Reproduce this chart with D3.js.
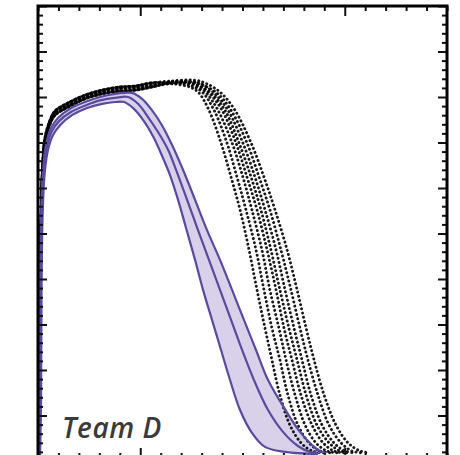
<!DOCTYPE html>
<html>
<head>
<meta charset="utf-8">
<script src="https://cdn.jsdelivr.net/npm/d3@7"></script>
<style>
  html, body { margin: 0; padding: 0; background: #fff; }
  svg { display: block; }
</style>
</head>
<body>
<svg id="chart" width="460" height="455"></svg>
<script>
// ---- data -------------------------------------------------------------
// Three slightly different steep rises shared by the black runs
const riseMid  = [[0.5,1.3],[0.7,13.4],[1.0,35.4],[1.5,53.0],[2.2,64.0],[3.4,70.5],[5.9,74.5],[8.3,76.5],[14.7,78.2],[23.0,80.0],[31.3,81.1],[40.1,81.8],[47.4,82.0],[55.7,82.6]];
const riseHigh = [[0.5,1.3],[0.7,13.4],[1.0,35.4],[1.5,53.0],[2.2,64.4],[3.4,71.0],[5.9,74.9],[8.3,76.9],[14.7,78.7],[23.0,80.4],[31.3,81.5],[40.1,82.2],[47.4,82.4],[55.7,83.1]];
const riseLow  = [[0.5,1.3],[0.7,13.4],[1.0,35.4],[1.5,53.0],[2.2,63.6],[3.4,70.1],[5.9,74.1],[8.3,76.0],[14.7,77.8],[23.0,79.6],[31.3,80.7],[40.1,81.3],[47.4,81.5],[55.7,82.2]];

// y levels at which each black run's descent is sampled
const dropLevels = [80.9,77.1,69.9,62.4,55.2,46.4,37.6,29.2,22.2,14.5,7.9,4.0,2.2,1.8];

// plateau points and descent x-values of the eight black runs
const runA = { top: [[64.5,82.9],[70.4,82.6],[75.3,82.0]], drop: [78.7,83.6,89.5,94.4,98.8,103.2,107.1,111.0,114.4,118.3,123.2,128.6,134.0,139.9] };
const runB = { top: [[64.5,83.1],[71.4,82.9],[76.3,82.2]], drop: [80.7,86.1,92.4,97.3,101.7,106.6,110.5,114.4,118.3,122.2,127.1,132.5,137.9,143.8] };
const runC = { top: [[64.5,83.1],[72.4,83.1],[77.3,82.4]], drop: [82.2,88.0,94.9,100.2,104.6,109.5,113.4,117.8,121.3,125.7,130.6,135.9,141.3,146.7] };
const runD = { top: [[64.5,83.3],[72.9,83.3],[78.2,82.6]], drop: [83.6,90.0,96.8,102.2,107.1,112.0,116.4,120.3,124.2,128.6,134.0,139.4,144.7,150.1] };
const runE = { top: [[64.5,82.9],[73.3,83.1],[78.7,82.4]], drop: [84.6,91.4,98.3,104.2,109.0,113.9,118.3,122.7,126.7,131.1,136.4,142.3,147.7,152.6] };
const runF = { top: [[64.5,83.3],[74.3,83.5],[79.7,82.9]], drop: [86.1,92.9,100.2,106.1,111.0,116.4,120.8,125.2,129.1,133.5,138.9,144.7,150.1,155.0] };
const runG = { top: [[64.5,83.1],[75.3,83.3],[80.7,82.6]], drop: [87.5,94.4,102.2,108.1,113.4,118.8,123.7,128.1,132.0,136.9,142.3,148.2,153.5,158.4] };
const runH = { top: [[64.5,83.5],[76.8,83.7],[82.6,82.9]], drop: [89.5,96.3,104.2,110.5,115.9,121.8,126.7,131.1,135.0,139.9,145.7,151.6,157.5,162.3] };

// Team D: upper, middle and lower curves of the shaded band
const teamUpper = [[0.5,1.3],[0.7,13.4],[1.0,35.4],[1.5,53.0],[2.4,63.5],[3.9,69.5],[6.4,73.2],[9.8,75.4],[15.6,77.4],[23.0,78.9],[30.3,80.0],[37.7,80.7],[42.5,80.9],[46.0,80.9],
  [50.9,79.6],[55.7,77.1],[60.6,73.8],[65.5,69.5],[70.9,64.0],[76.8,57.4],[82.6,50.8],[89.0,44.2],[94.9,37.6],[100.7,31.0],[106.6,24.4],[112.5,17.8],[121.3,11.0],[128.1,6.4],[134.0,3.5],[137.9,2.2],[140.8,1.8]];
const teamMiddle = [[0.5,1.3],[0.7,13.4],[1.0,35.4],[1.7,53.0],[2.7,63.3],[4.4,69.0],[6.8,72.5],[10.3,74.7],[16.1,76.7],[23.5,78.2],[30.8,79.3],[37.7,79.8],[44.0,80.0],
  [48.9,78.5],[53.8,75.6],[58.7,72.3],[63.6,68.4],[67.5,64.0],[72.9,57.4],[78.2,50.8],[83.6,44.2],[89.0,37.6],[94.4,31.0],[99.8,24.4],[105.6,17.8],[112.5,11.2],[119.8,6.4],[127.1,3.3],[133.0,2.0],[137.9,1.8]];
const teamLower = [[1.0,1.3],[1.5,13.4],[1.7,35.4],[2.2,53.0],[3.2,62.9],[4.9,68.4],[7.3,71.6],[10.8,73.8],[16.6,76.0],[24.0,77.6],[31.3,78.5],[37.7,78.9],[42.1,78.9],
  [46.9,77.4],[51.8,74.7],[56.7,71.0],[61.1,66.6],[64.5,62.9],[68.5,57.4],[72.4,51.2],[76.8,44.2],[80.7,37.6],[85.1,31.0],[89.5,24.4],[93.9,17.8],[98.8,11.2],[104.6,6.2],[111.0,3.1],[120.8,2.0],[136.9,1.5]];

// axis ticks
const xMajorTicks = [50, 150];
const xMinorTicks = [0,10,20,30,40,60,70,80,90,100,110,120,130,140,160,170,180,190,200];
const yMajorTicks = [10,20,30,40,50,60,70,80,90,100];
const yMinorTicks = d3.range(0, 101, 2).filter(v => v % 10 !== 0);

const label = "Team D";

// ---- layout -----------------------------------------------------------
const svg = d3.select("#chart");
const plotLeft = 38, plotRight = 447, plotTop = 6, plotBottom = 458;

const x = d3.scaleLinear().domain([0, 200]).range([plotLeft, plotRight]);
const y = d3.scaleLinear().domain([0, 100]).range([461, plotTop]);

svg.append("clipPath").attr("id", "plotArea")
  .append("rect").attr("x", plotLeft).attr("y", plotTop)
  .attr("width", plotRight - plotLeft).attr("height", plotBottom - plotTop);

const line = d3.line().x(d => x(d[0])).y(d => y(d[1])).curve(d3.curveCatmullRom.alpha(0.5));
const plot = svg.append("g").attr("clip-path", "url(#plotArea)");

// shaded band between the outer Team D curves
const band = teamUpper.concat(teamLower.slice().reverse());
plot.append("path")
  .attr("d", d3.line().x(d => x(d[0])).y(d => y(d[1])).curve(d3.curveCatmullRomClosed.alpha(0.5))(band))
  .attr("fill", "#d9d1ea")
  .attr("stroke", "none");

// black dotted runs
const runs = [
  { rise: riseLow,  run: runA }, { rise: riseHigh, run: runB }, { rise: riseMid,  run: runC },
  { rise: riseLow,  run: runD }, { rise: riseHigh, run: runE }, { rise: riseMid,  run: runF },
  { rise: riseLow,  run: runG }, { rise: riseHigh, run: runH }
];
runs.forEach((r, i) => {
  const pts = r.rise.concat(r.run.top, r.run.drop.map((vx, k) => [vx, dropLevels[k]]));
  plot.append("path")
    .attr("d", line(pts))
    .attr("fill", "none")
    .attr("stroke", "#000")
    .attr("stroke-width", 2.9)
    .attr("stroke-linecap", "round")
    .attr("stroke-dasharray", "0.1 4.2")
    .attr("stroke-dashoffset", i * 1.1)
    .attr("opacity", 0.9);
});

// Team D curves
[teamLower, teamMiddle, teamUpper].forEach(pts => {
  plot.append("path")
    .attr("d", line(pts))
    .attr("fill", "none")
    .attr("stroke", "#5a4a9e")
    .attr("stroke-width", 2.2);
});

// ---- axes (inward ticks on all four sides) -----------------------------
function addAxis(axisFn, scale, values, size, transform) {
  const g = svg.append("g").attr("transform", transform)
    .call(axisFn(scale).tickValues(values).tickSizeInner(-size).tickSizeOuter(0).tickFormat(""));
  g.select(".domain").remove();
  g.selectAll(".tick line").attr("stroke", "#111").attr("stroke-width", 2);
}
addAxis(d3.axisTop, x, xMajorTicks, 10, `translate(0,${plotTop})`);
addAxis(d3.axisTop, x, xMinorTicks, 5, `translate(0,${plotTop})`);
addAxis(d3.axisBottom, x, xMajorTicks, 10, `translate(0,${plotBottom})`);
addAxis(d3.axisBottom, x, xMinorTicks, 5, `translate(0,${plotBottom})`);
addAxis(d3.axisLeft, y, yMajorTicks, 9, `translate(${plotLeft},0)`);
addAxis(d3.axisLeft, y, yMinorTicks, 5, `translate(${plotLeft},0)`);
addAxis(d3.axisRight, y, yMajorTicks, 9, `translate(${plotRight},0)`);
addAxis(d3.axisRight, y, yMinorTicks, 5, `translate(${plotRight},0)`);

// frame
svg.append("rect")
  .attr("x", plotLeft).attr("y", plotTop)
  .attr("width", plotRight - plotLeft).attr("height", plotBottom - plotTop)
  .attr("fill", "none").attr("stroke", "#000").attr("stroke-width", 3);

// panel label
svg.append("text")
  .attr("x", 62).attr("y", 438)
  .attr("font-family", "'Open Sans', sans-serif")
  .attr("font-style", "italic")
  .attr("font-weight", 600)
  .attr("font-size", 28)
  .attr("letter-spacing", 0.6)
  .attr("fill", "#3a3a3a")
  .text(label);
</script>
</body>
</html>
